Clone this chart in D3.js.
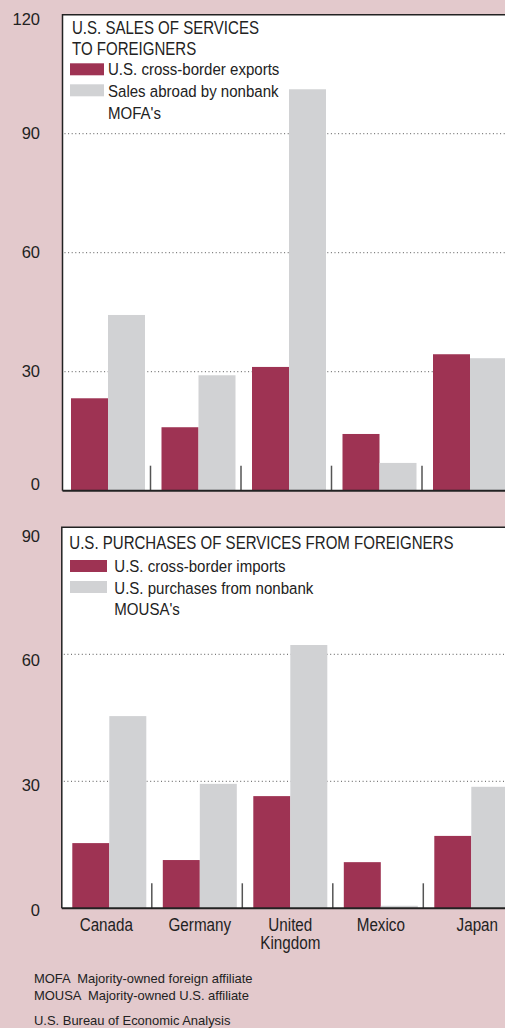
<!DOCTYPE html>
<head>
  <meta charset="utf-8">
  <script src="https://d3js.org/d3.v7.min.js"></script>
  <style>
    body { margin: 0; background: #e3c9cc; }
    text { font-family: "Liberation Sans", Arial, sans-serif; fill: #222; white-space: pre; }
  </style>
</head>
<body>
<svg width="505" height="1028"></svg>
<script>

  const categories = ["Canada", "Germany", "United Kingdom", "Mexico", "Japan"];
  const series = ["crossBorder", "affiliates"];

  // billions of dollars
  const salesExports = [23.3, 16.0, 31.2, 14.3, 34.4];
  const salesMofa = [44.3, 29.1, 101.2, 7.0, 33.4];
  const purchImports = [15.4, 11.4, 26.5, 10.9, 17.1];
  const purchMousa = [45.4, 29.4, 62.2, 0.6, 28.7];

  const salesTicks = [0, 30, 60, 90, 120];
  const purchTicks = [0, 30, 60, 90];

  const colors = { crossBorder: "#9e3353", affiliates: "#d1d2d4" };

  let svg = d3.select("svg");

  svg.append("rect").attr("width", 505).attr("height", 1028).attr("fill", "#e3c9cc");

  let x = d3.scaleBand().domain(categories).range([60, 512.5]);
  let x1 = d3.scaleBand().domain(series).range([11, 85]);

  // condensed text: no narrow face installed, so squeeze horizontally
  function txt(parent, tx, ty, size, sx, str, anchor) {
    return parent.append("text")
      .attr("transform", "translate(" + tx + "," + ty + ") scale(" + sx + ",1)")
      .attr("text-anchor", anchor || "start")
      .style("font-size", size + "px")
      .text(str);
  }

  function panel(opts) {
    let y = d3.scaleLinear().domain(opts.domain).range([opts.bottom, opts.top]);
    let g = svg.append("g").attr("transform", "translate(" + opts.shift + ",0)");

    // white plot box
    g.append("rect")
      .attr("x", opts.left).attr("y", opts.top)
      .attr("width", 520 - opts.left).attr("height", opts.bottom - opts.top)
      .attr("fill", "#fff");

    // dotted gridlines
    g.selectAll(".grid")
      .data(opts.ticks.filter(t => t > 0 && t < opts.domain[1]))
      .enter().append("line")
      .attr("x1", opts.left + 2).attr("x2", 505)
      .attr("y1", d => y(d)).attr("y2", d => y(d))
      .attr("stroke", "#555").attr("stroke-width", 1)
      .attr("stroke-dasharray", "1,2.6");

    // bars
    let rows = categories.map((c, i) => ({ c: c, crossBorder: opts.a[i], affiliates: opts.b[i] }));
    g.selectAll(".grp")
      .data(rows)
      .enter().append("g")
      .attr("transform", d => "translate(" + x(d.c) + ",0)")
      .selectAll("rect")
      .data(d => series.map(k => ({ k: k, v: d[k] })))
      .enter().append("rect")
      .attr("x", d => x1(d.k))
      .attr("width", x1.bandwidth())
      .attr("y", d => y(d.v))
      .attr("height", d => y(0) - y(d.v))
      .attr("fill", d => colors[d.k]);

    // category separators
    g.selectAll(".sep")
      .data(categories.slice(1))
      .enter().append("line")
      .attr("x1", d => x(d)).attr("x2", d => x(d))
      .attr("y1", opts.bottom - 25).attr("y2", opts.bottom)
      .attr("stroke", "#555").attr("stroke-width", 1.5);

    // box frame
    g.append("path")
      .attr("d", "M" + opts.left + "," + opts.bottom + "V" + opts.top + "H520")
      .attr("fill", "none").attr("stroke", "#222").attr("stroke-width", 1.5);
    g.append("line")
      .attr("x1", opts.left).attr("x2", 520)
      .attr("y1", opts.bottom).attr("y2", opts.bottom)
      .attr("stroke", "#222").attr("stroke-width", 2);

    // y tick labels
    let ax = svg.append("g")
      .attr("transform", "translate(40,0)")
      .call(d3.axisLeft(y).tickValues(opts.ticks).tickSize(0).tickPadding(0));
    ax.select(".domain").remove();
    ax.selectAll("text")
      .attr("fill", "#222")
      .style("font-family", "'Liberation Sans', Arial, sans-serif")
      .style("font-size", "16.5px")
      .attr("dy", d => opts.labelDy(d));

    // title + legend
    opts.title.forEach((line, i) => {
      txt(g, opts.titleX, opts.titleY + i * 20.7, 17.5, 0.86, line);
    });
    opts.legend.forEach((item, i) => {
      g.append("rect")
        .attr("x", 70 - opts.shift).attr("y", opts.legendY + i * 21)
        .attr("width", opts.swatchW).attr("height", 12)
        .attr("fill", colors[series[i]]);
    });
    let lines = [opts.legend[0], ...opts.legend[1]];
    lines.forEach((line, i) => {
      txt(g, opts.legendTextX, opts.legendY + 12 + i * 21.6, 17, 0.885, line);
    });
    return y;
  }

  panel({
    domain: [0, 120], ticks: salesTicks, top: 14.7, bottom: 490.7, left: 62.5, shift: 0,
    a: salesExports, b: salesMofa,
    labelDy: d => d === 0 ? "-0.05em" : d === 120 ? "0.62em" : "0.32em",
    title: ["U.S. SALES OF SERVICES", "TO FOREIGNERS"], titleX: 72, titleY: 34.3,
    legend: ["U.S. cross-border exports", ["Sales abroad by nonbank", "MOFA's"]],
    legendY: 63.3, swatchW: 34, legendTextX: 108
  });

  panel({
    domain: [0, 90], ticks: purchTicks, top: 527.3, bottom: 908.3, left: 60.5, shift: 1.3,
    a: purchImports, b: purchMousa,
    labelDy: d => d === 90 ? "0.85em" : d === 60 ? "0.7em" : d === 30 ? "0.55em" : "0.45em",
    title: ["U.S. PURCHASES OF SERVICES FROM FOREIGNERS"], titleX: 68, titleY: 549,
    legend: ["U.S. cross-border imports", ["U.S. purchases from nonbank", "MOUSA's"]],
    legendY: 560, swatchW: 37, legendTextX: 113
  });

  // category labels
  let cl = svg.append("g");
  categories.forEach(c => {
    let words = c === "United Kingdom" ? ["United", "Kingdom"] : [c];
    words.forEach((w, i) => {
      let cx = x(c) + x1("affiliates") + 1.3 + (c === "Japan" ? 6 : 0) - (c === "Canada" ? 3 : 0);
      txt(cl, cx, 931 + i * 17.5, 17.5, 0.87, w, "middle");
    });
  });

  // notes
  const notes = ["MOFA  Majority-owned foreign affiliate", "MOUSA  Majority-owned U.S. affiliate"];
  notes.forEach((n, i) => {
    txt(svg, 34, 983 + i * 17, 13.5, 0.96, n);
  });
  txt(svg, 34, 1025, 13.5, 0.96, "U.S. Bureau of Economic Analysis");

</script>
</body>
